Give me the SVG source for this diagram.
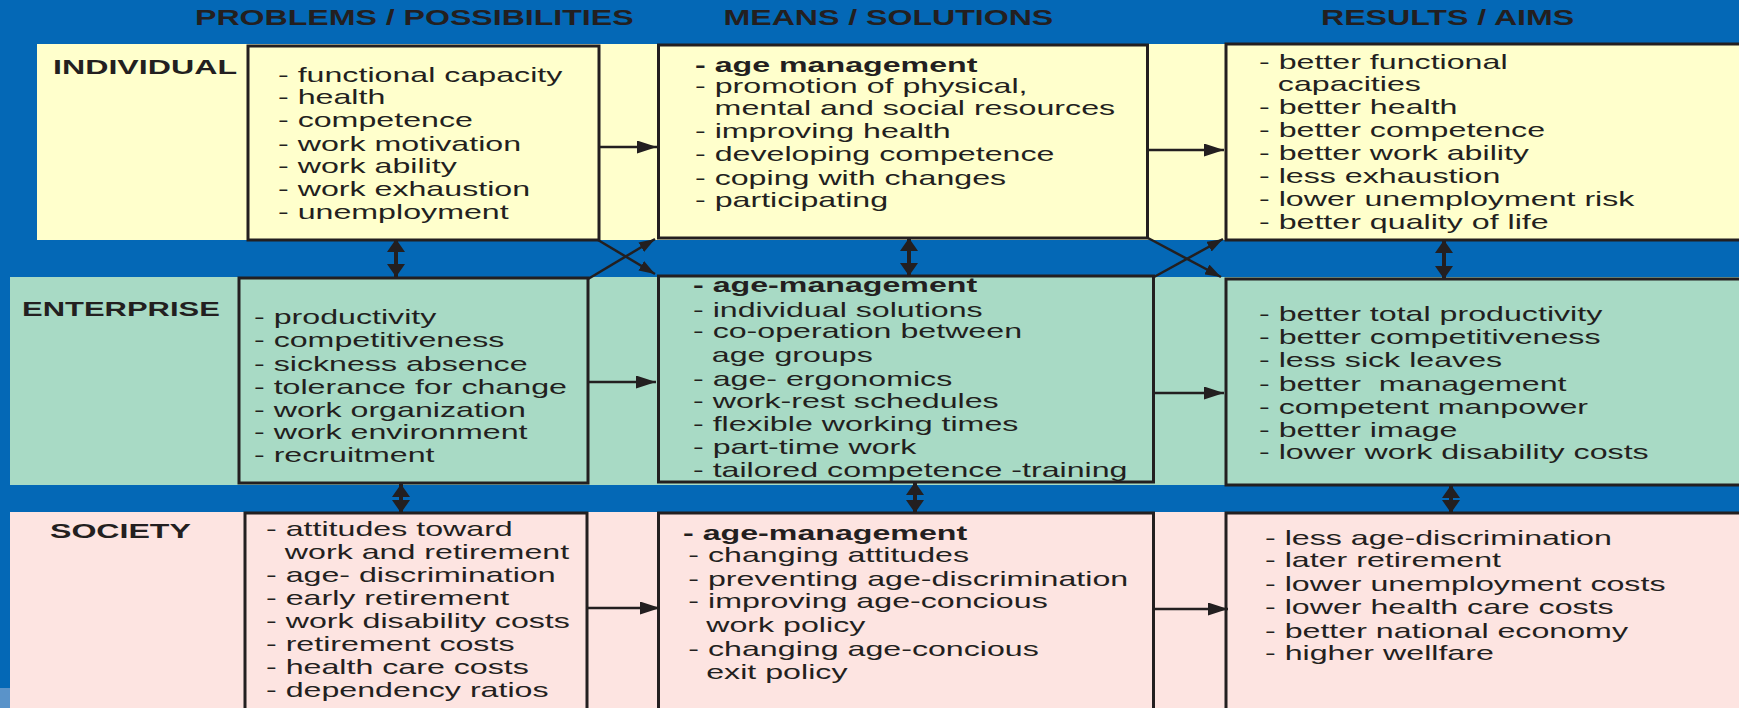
<svg xmlns="http://www.w3.org/2000/svg" width="1739" height="708" viewBox="0 0 1739 708">
<style>
.hdr{font-family:"Liberation Sans",Arial,sans-serif;font-weight:bold;font-size:21.4px;fill:#231F20}
.lbl{font-family:"Liberation Sans",Arial,sans-serif;font-weight:bold;font-size:20.5px;fill:#231F20}
.t{font-family:"Liberation Sans",Arial,sans-serif;font-size:20.5px;fill:#231F20}
.b{font-weight:bold}
.box{stroke:#231F20;stroke-width:3}
.y{fill:#FFFFCC}
.g{fill:#A8DAC5}
.p{fill:#FDE4E1}
.c{stroke:#231F20;fill:none}
</style>
<defs>
<marker id="ah" markerUnits="userSpaceOnUse" markerWidth="20" markerHeight="13" refX="20" refY="6.5" orient="auto"><path d="M0,0 L20,6.5 L0,13 Z" fill="#231F20"/></marker>
<marker id="av" markerUnits="userSpaceOnUse" markerWidth="13" markerHeight="18" refX="13" refY="9" orient="auto-start-reverse"><path d="M0,0 L13,9 L0,18 Z" fill="#231F20"/></marker>
<marker id="ad" markerUnits="userSpaceOnUse" markerWidth="16" markerHeight="11" refX="16" refY="5.5" orient="auto"><path d="M0,0 L16,5.5 L0,11 Z" fill="#231F20"/></marker>
</defs>
<rect x="0" y="0" width="1739" height="708" fill="#0468B6"/>
<rect x="0" y="688" width="10" height="20" fill="#5A93C9"/>
<g id="headers">
<text class="hdr" transform="translate(195,0) scale(1.5,1)" x="0" y="25">PROBLEMS / POSSIBILITIES</text>
<text class="hdr" transform="translate(723.5,0) scale(1.5,1)" x="0" y="25">MEANS / SOLUTIONS</text>
<text class="hdr" transform="translate(1321,0) scale(1.5,1)" x="0" y="25">RESULTS / AIMS</text>
</g>
<g id="bands">
<rect class="y" x="37" y="44" width="1702" height="196"/>
<rect class="g" x="10" y="277" width="1729" height="208"/>
<rect class="p" x="10" y="512" width="1729" height="196"/>
</g>
<g id="individual">
<text class="lbl" transform="translate(53,0) scale(1.57,1)" x="0" y="74">INDIVIDUAL</text>
</g>
<g id="enterprise">
<text class="lbl" transform="translate(22,0) scale(1.51,1)" x="0" y="316">ENTERPRISE</text>
</g>
<g id="society">
<text class="lbl" transform="translate(50,0) scale(1.566,1)" x="0" y="538">SOCIETY</text>
</g>
<g id="ind-problems">
<rect class="box y" x="248" y="46" width="351" height="194"/>
<text class="t" transform="translate(278,0) scale(1.57,1)">
<tspan x="0" y="82">- functional capacity</tspan>
<tspan x="0" y="104">- health</tspan>
<tspan x="0" y="127">- competence</tspan>
<tspan x="0" y="151">- work motivation</tspan>
<tspan x="0" y="173">- work ability</tspan>
<tspan x="0" y="196">- work exhaustion</tspan>
<tspan x="0" y="219">- unemployment</tspan>
</text>
</g>
<g id="ind-means">
<rect class="box y" x="658.5" y="45" width="489" height="193"/>
<text class="t" transform="translate(695,0) scale(1.57,1)">
<tspan class="b" x="0" y="72">- age management</tspan>
<tspan x="0" y="93">- promotion of physical,</tspan>
<tspan x="12.5" y="115">mental and social resources</tspan>
<tspan x="0" y="138">- improving health</tspan>
<tspan x="0" y="161">- developing competence</tspan>
<tspan x="0" y="185">- coping with changes</tspan>
<tspan x="0" y="207">- participating</tspan>
</text>
</g>
<g id="ind-results">
<rect class="box y" x="1226" y="44" width="520" height="196"/>
<text class="t" transform="translate(1259,0) scale(1.57,1)">
<tspan x="0" y="69">- better functional</tspan>
<tspan x="12" y="91">capacities</tspan>
<tspan x="0" y="114">- better health</tspan>
<tspan x="0" y="137">- better competence</tspan>
<tspan x="0" y="160">- better work ability</tspan>
<tspan x="0" y="183">- less exhaustion</tspan>
<tspan x="0" y="206">- lower unemployment risk</tspan>
<tspan x="0" y="229">- better quality of life</tspan>
</text>
</g>
<g id="ent-problems">
<rect class="box g" x="239" y="278" width="349" height="205"/>
<text class="t" transform="translate(254,0) scale(1.57,1)">
<tspan x="0" y="324">- productivity</tspan>
<tspan x="0" y="347">- competitiveness</tspan>
<tspan x="0" y="371">- sickness absence</tspan>
<tspan x="0" y="394">- tolerance for change</tspan>
<tspan x="0" y="417">- work organization</tspan>
<tspan x="0" y="439">- work environment</tspan>
<tspan x="0" y="462">- recruitment</tspan>
</text>
</g>
<g id="ent-means">
<rect class="box g" x="658.5" y="276" width="495" height="206"/>
<text class="t" transform="translate(693,0) scale(1.57,1)">
<tspan class="b" x="0" y="292">- age-management</tspan>
<tspan x="0" y="317">- individual solutions</tspan>
<tspan x="0" y="338">- co-operation between</tspan>
<tspan x="12" y="362">age groups</tspan>
<tspan x="0" y="386">- age- ergonomics</tspan>
<tspan x="0" y="408">- work-rest schedules</tspan>
<tspan x="0" y="431">- flexible working times</tspan>
<tspan x="0" y="454">- part-time work</tspan>
<tspan x="0" y="477">- tailored competence -training</tspan>
</text>
</g>
<g id="ent-results">
<rect class="box g" x="1226" y="279" width="520" height="206"/>
<text class="t" transform="translate(1259,0) scale(1.57,1)">
<tspan x="0" y="321">- better total productivity</tspan>
<tspan x="0" y="344">- better competitiveness</tspan>
<tspan x="0" y="367">- less sick leaves</tspan>
<tspan x="0" y="391">- better&#160; management</tspan>
<tspan x="0" y="414">- competent manpower</tspan>
<tspan x="0" y="437">- better image</tspan>
<tspan x="0" y="459">- lower work disability costs</tspan>
</text>
</g>
<g id="soc-problems">
<rect class="box p" x="245" y="513" width="342" height="200"/>
<text class="t" transform="translate(266,0) scale(1.57,1)">
<tspan x="0" y="536">- attitudes toward</tspan>
<tspan x="12" y="559">work and retirement</tspan>
<tspan x="0" y="582">- age- discrimination</tspan>
<tspan x="0" y="605">- early retirement</tspan>
<tspan x="0" y="628">- work disability costs</tspan>
<tspan x="0" y="651">- retirement costs</tspan>
<tspan x="0" y="674">- health care costs</tspan>
<tspan x="0" y="697">- dependency ratios</tspan>
</text>
</g>
<g id="soc-means">
<rect class="box p" x="658.5" y="513" width="495" height="200"/>
<text class="t" transform="translate(683,0) scale(1.57,1)">
<tspan class="b" x="0" y="540">- age-management</tspan>
<tspan x="3.4" y="562">- changing attitudes</tspan>
<tspan x="3.4" y="586">- preventing age-discrimination</tspan>
<tspan x="3.4" y="608">- improving age-concious</tspan>
<tspan x="14.8" y="632">work policy</tspan>
<tspan x="3.4" y="656">- changing age-concious</tspan>
<tspan x="14.8" y="679">exit policy</tspan>
</text>
</g>
<g id="soc-results">
<rect class="box p" x="1226" y="513" width="520" height="200"/>
<text class="t" transform="translate(1265,0) scale(1.57,1)">
<tspan x="0" y="545">- less age-discrimination</tspan>
<tspan x="0" y="567">- later retirement</tspan>
<tspan x="0" y="591">- lower unemployment costs</tspan>
<tspan x="0" y="614">- lower health care costs</tspan>
<tspan x="0" y="638">- better national economy</tspan>
<tspan x="0" y="660">- higher wellfare</tspan>
</text>
</g>
<g id="connectors">
<g stroke-width="2.5" class="c">
<line class="c" x1="600" y1="147" x2="657" y2="147" marker-end="url(#ah)"/>
<line class="c" x1="1148" y1="150" x2="1224" y2="150" marker-end="url(#ah)"/>
<line class="c" x1="588" y1="382" x2="656" y2="382" marker-end="url(#ah)"/>
<line class="c" x1="1154" y1="393" x2="1224" y2="393" marker-end="url(#ah)"/>
<line class="c" x1="587" y1="608" x2="660" y2="608" marker-end="url(#ah)"/>
<line class="c" x1="1154" y1="609" x2="1228" y2="609" marker-end="url(#ah)"/>
<line class="c" x1="598" y1="240" x2="655" y2="274" marker-end="url(#ad)"/>
<line class="c" x1="588" y1="279" x2="655" y2="239" marker-end="url(#ad)"/>
<line class="c" x1="1148" y1="238" x2="1221" y2="277" marker-end="url(#ad)"/>
<line class="c" x1="1154" y1="277" x2="1223" y2="239" marker-end="url(#ad)"/>
</g>
<g stroke-width="4" class="c">
<line class="c" x1="396" y1="239" x2="396" y2="277" marker-start="url(#av)" marker-end="url(#av)"/>
<line class="c" x1="909" y1="238" x2="909" y2="276" marker-start="url(#av)" marker-end="url(#av)"/>
<line class="c" x1="1444" y1="240" x2="1444" y2="279" marker-start="url(#av)" marker-end="url(#av)"/>
<line class="c" x1="401" y1="484" x2="401" y2="513" marker-start="url(#av)" marker-end="url(#av)"/>
<line class="c" x1="915" y1="482" x2="915" y2="513" marker-start="url(#av)" marker-end="url(#av)"/>
<line class="c" x1="1451" y1="485" x2="1451" y2="513" marker-start="url(#av)" marker-end="url(#av)"/>
</g>
</g>
</svg>
